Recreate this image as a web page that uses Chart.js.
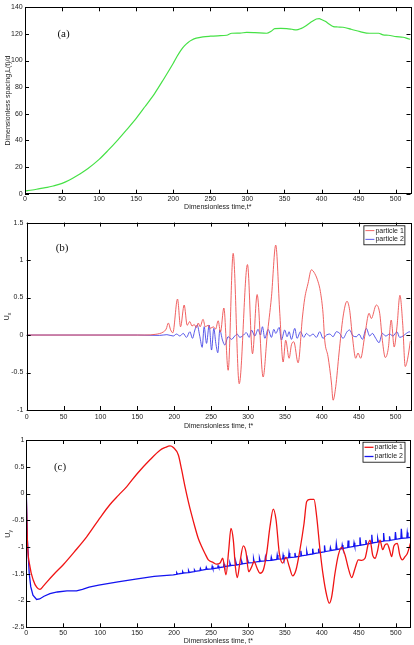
<!DOCTYPE html>
<html>
<head>
<meta charset="utf-8">
<script src="https://cdn.jsdelivr.net/npm/chart.js@4.4.0/dist/chart.umd.min.js"></script>
<style>
  html, body { margin: 0; padding: 0; background: #fff; }
  #page { position: relative; width: 414px; height: 645px; }
  .panel { position: absolute; left: 0; width: 414px; height: 215px; }
</style>
</head>
<body>
<div id="page">
  <div class="panel" style="top:0"><canvas id="chartA"></canvas></div>
  <div class="panel" style="top:215px"><canvas id="chartB"></canvas></div>
  <div class="panel" style="top:430px"><canvas id="chartC"></canvas></div>
</div>
<script>
// (a) spacing L(t)/d vs time
const spacingT = [0, 10, 20, 30, 38, 50, 60, 70, 85, 100, 112, 125, 137, 150, 162, 175, 187, 200, 205, 210, 215, 220, 225, 231, 240, 250, 260, 272, 279, 290, 299, 310, 326, 332, 337, 345, 353, 360, 366, 372, 378, 385, 393, 397, 400, 405, 410, 416, 422, 429, 440, 452, 465, 470, 477, 483, 490, 501, 510, 518, 520];
const spacingL = [2, 2.8, 3.8, 4.7, 5.8, 7.8, 10.3, 13.5, 19, 25.8, 32.5, 40.3, 48, 56.6, 65.5, 75.4, 86, 98, 103, 107.5, 111, 113.6, 115.4, 116.8, 117.8, 118.3, 118.6, 119, 120.5, 120.6, 121.2, 121, 120.5, 122, 124, 124.2, 124, 123.5, 123, 124, 125.8, 128.5, 131.2, 131.5, 130.8, 129.5, 127.5, 125.5, 125.2, 125, 123.5, 121.7, 120.5, 120.5, 120.5, 119.3, 119, 118, 117.5, 116.2, 116];

// (b) Ux, particle 1
const uxT1 = [0, 160, 175, 185, 189, 192, 195, 198, 204.4, 208.5, 213.4, 217.5, 221, 224, 227, 230, 232.5, 235, 239, 242, 246, 249, 253, 256, 259.5, 262.6, 267.2, 273, 279.8, 288, 299.2, 306, 312.3, 320.4, 325.8, 331.7, 337.5, 343, 347.5, 351, 355.6, 358.8, 362, 367.8, 373.7, 376.8, 381.3, 385.8, 390.4, 394.9, 398, 401.6, 403.9, 408.4, 413, 415.2, 418.8, 423.3, 428.7, 434.1, 437.7, 441.4, 445.9, 449, 452.6, 458, 464, 467, 473.8, 478.4, 482, 486, 490, 494, 498, 501.8, 505.8, 509.5, 513, 516, 520];
const ux1 = [0, 0, 0.01, 0.04, 0.08, 0.16, 0.07, 0.03, 0.48, 0.11, 0.4, 0.13, 0.18, 0.12, 0.14, 0.1, 0.16, 0.11, 0.21, 0.11, 0.13, 0.09, 0.11, 0.08, 0.19, 0.04, 0.36, -0.47, 1.09, -0.65, 0.94, -0.25, 0.54, -0.56, -0.02, 0.51, 1.2, 0.29, -0.36, -0.07, -0.31, -0.13, -0.09, -0.37, 0.24, 0.49, 0.69, 0.87, 0.82, 0.71, 0.58, 0.29, -0.07, -0.29, -0.64, -0.87, -0.69, -0.24, 0.24, 0.45, 0.33, -0.02, -0.31, -0.24, -0.31, -0.02, 0.29, 0.22, 0.4, 0.29, -0.07, -0.3, -0.18, 0.2, -0.16, 0.11, 0.53, 0.16, -0.42, -0.33, -0.08];

// (b) Ux, particle 2
const uxT2 = [0, 150, 180, 190, 198.6, 203.1, 207.6, 212.1, 216.6, 221.1, 224.7, 227.9, 231, 234.7, 237.8, 240.5, 243.7, 247.3, 250.5, 253.6, 256.3, 259, 261.7, 265.3, 268.5, 273, 277.5, 282, 285.2, 288.8, 292.4, 297.8, 301.5, 304.6, 309.1, 313.6, 316.8, 319.5, 322.7, 327.2, 331.7, 334.9, 337.6, 342.1, 345.2, 349.7, 352.9, 355.6, 358.8, 363.3, 366.4, 371, 375.5, 379.1, 383.6, 388.1, 392.6, 397.1, 401.6, 406.2, 410.7, 415.2, 419.7, 424.2, 428.7, 434.1, 437.7, 442.3, 446.8, 450.4, 454.9, 460.3, 464.8, 468.4, 473, 477.5, 482, 486.5, 491.9, 496.4, 501.8, 505.4, 510, 514.5, 519, 520];
const ux2 = [0, 0, -0.005, 0.005, -0.013, 0.013, -0.013, 0.022, -0.031, 0.044, -0.044, 0.067, 0.133, -0.022, -0.164, 0.111, -0.111, 0.133, -0.2, 0.089, -0.111, -0.236, 0.067, -0.067, -0.133, -0.022, -0.058, -0.013, 0.013, -0.031, -0.013, 0.031, -0.031, 0.067, -0.013, 0.076, 0, 0.111, -0.044, 0.076, -0.031, 0.076, 0.022, 0.102, -0.067, 0.067, -0.022, 0.044, -0.058, 0.089, -0.044, 0.044, -0.031, 0.022, -0.013, 0.013, -0.031, 0.044, -0.044, 0, 0.013, -0.022, 0.044, 0.022, -0.044, 0.044, 0.067, -0.013, -0.022, 0.013, -0.058, 0.089, -0.013, 0.022, -0.044, -0.102, 0.022, -0.013, 0.013, -0.013, 0.044, -0.031, -0.013, 0.022, 0.044, 0.03];

// (c) Uy, particle 1
const uyT1 = [0, 1.5, 5, 9.5, 14, 18.5, 23, 28, 38, 50, 65, 81.7, 100, 113, 125, 136, 150, 167.4, 181, 188, 194.5, 199, 205.8, 210.3, 214.8, 219.3, 223.8, 228.3, 232.8, 237.3, 241.8, 246.4, 253.1, 257.5, 262.2, 265.8, 270.3, 274, 277, 280.2, 283, 285.6, 289, 293.7, 297.3, 301, 305, 308.2, 312.5, 316.3, 320.8, 325.3, 329.8, 334.3, 338, 342.5, 347, 351.5, 356, 360.5, 365, 370.4, 375.9, 379.5, 384, 389.4, 393, 397.5, 402, 406.5, 410.1, 413.3, 417.8, 422.3, 426.8, 431.4, 435.9, 440.4, 444.9, 449.4, 454, 458.4, 463, 465.2, 468.8, 472, 475.1, 478.7, 482.3, 485.5, 488.5, 491.4, 494.5, 497.5, 502.2, 505.5, 509, 512.6, 515.7, 520];
const uy1 = [-0.05, -0.9, -1.37, -1.62, -1.75, -1.79, -1.73, -1.65, -1.5, -1.33, -1.09, -0.81, -0.45, -0.21, -0.03, 0.13, 0.37, 0.63, 0.81, 0.86, 0.89, 0.86, 0.72, 0.44, 0.13, -0.15, -0.4, -0.63, -0.84, -0.99, -1.12, -1.24, -1.29, -1.32, -1.3, -1.21, -1.52, -1.05, -0.65, -0.87, -1.37, -1.57, -1.3, -0.98, -1.09, -1.46, -1.37, -1.27, -1.4, -1.49, -1.43, -1.12, -0.62, -0.29, -0.49, -1.12, -1.3, -1.19, -1.37, -1.54, -1.43, -1.05, -0.56, -0.15, -0.11, -0.11, -0.43, -1.05, -1.55, -1.9, -2.05, -1.93, -1.49, -1.15, -1.0, -1.15, -1.4, -1.57, -1.4, -1.24, -1.25, -1.21, -0.93, -0.87, -1.15, -1.21, -1.09, -0.87, -1.05, -0.96, -0.94, -1.04, -1.18, -0.98, -0.93, -1.15, -1.24, -1.18, -1.12, -0.93];

// (c) Uy, particle 2 (slow drift with small periodic spikes)
const uyT2 = [0, 1.5, 4, 6, 9, 14, 18, 24, 32, 42, 55, 68, 76, 85, 98, 124, 148, 173, 199,
  203, 203.6, 204.6, 211, 211.6, 212.6, 219, 219.6, 220.6, 227, 227.6, 228.6, 235, 235.6, 236.6, 243, 243.6, 244.6,
  251, 251.6, 252.6, 259, 259.6, 260.6, 267, 267.6, 268.6, 275, 275.6, 276.6, 283, 283.6, 284.6, 291, 291.6, 292.6,
  299, 299.6, 300.6, 307, 307.6, 308.6, 315, 315.6, 316.6, 323, 323.6, 324.6, 331, 331.6, 332.6, 339, 339.6, 340.6,
  347, 347.6, 348.6, 355, 355.6, 356.6, 363, 363.6, 364.6, 371, 371.6, 372.6, 379, 379.6, 380.6, 387, 387.6, 388.6,
  395, 395.6, 396.6, 403, 403.6, 404.6, 411, 411.6, 412.6, 419, 419.6, 420.6, 427, 427.6, 428.6, 435, 435.6, 436.6,
  443, 443.6, 444.6, 451, 451.6, 452.6, 459, 459.6, 460.6, 467, 467.6, 468.6, 475, 475.6, 476.6, 483, 483.6, 484.6,
  491, 491.6, 492.6, 499, 499.6, 500.6, 507, 507.6, 508.6, 515, 515.6, 516.6, 520];
const uy2 = [0, -0.87, -1.5, -1.74, -1.9, -1.98, -1.97, -1.92, -1.87, -1.84, -1.82, -1.82, -1.79, -1.75, -1.71, -1.65, -1.6, -1.55, -1.52,
  -1.51, -1.48, -1.505, -1.49, -1.46, -1.485, -1.48, -1.44, -1.475, -1.46, -1.43, -1.455, -1.44, -1.40, -1.435, -1.42, -1.38, -1.415,
  -1.41, -1.36, -1.405, -1.39, -1.35, -1.385, -1.37, -1.32, -1.365, -1.35, -1.30, -1.345, -1.34, -1.28, -1.335, -1.32, -1.27, -1.315,
  -1.30, -1.24, -1.295, -1.29, -1.22, -1.285, -1.27, -1.21, -1.265, -1.26, -1.19, -1.255, -1.25, -1.19, -1.245, -1.23, -1.15, -1.225,
  -1.22, -1.15, -1.215, -1.20, -1.11, -1.195, -1.19, -1.11, -1.185, -1.17, -1.07, -1.165, -1.15, -1.08, -1.145, -1.13, -1.03, -1.125,
  -1.11, -1.03, -1.105, -1.09, -0.97, -1.085, -1.07, -1.01, -1.065, -1.05, -0.94, -1.045, -1.03, -0.96, -1.025, -1.01, -0.88, -1.005,
  -0.99, -0.92, -0.985, -0.97, -0.82, -0.965, -0.95, -0.87, -0.945, -0.93, -0.77, -0.925, -0.91, -0.84, -0.905, -0.89, -0.74, -0.885,
  -0.88, -0.80, -0.875, -0.86, -0.72, -0.855, -0.84, -0.66, -0.835, -0.83, -0.73, -0.825, -0.82];

const xTickVals = [0, 50, 100, 150, 200, 250, 300, 350, 400, 450, 500];
const legendLabels = ['particle 1', 'particle 2'];

function pts(ts, vs) {
  return ts.map((t, i) => ({ x: t, y: vs[i] }));
}

const TXT = '#222';
const SANS = "'Liberation Sans', Arial, sans-serif";

// box, inward ticks, panel tag, legend and subscripted y title
const framePlugin = {
  id: 'frame',
  afterDatasetsDraw(chart, args, o) {
    const { ctx, chartArea: a, scales } = chart;
    ctx.save();
    ctx.strokeStyle = '#000';
    ctx.lineWidth = 1;
    ctx.beginPath();
    scales.x.ticks.forEach(t => {
      const px = Math.round(scales.x.getPixelForValue(t.value)) + 0.5;
      ctx.moveTo(px, a.bottom); ctx.lineTo(px, a.bottom - 4);
      ctx.moveTo(px, a.top); ctx.lineTo(px, a.top + 4);
    });
    scales.y.ticks.forEach(t => {
      const py = Math.round(scales.y.getPixelForValue(t.value)) + 0.5;
      ctx.moveTo(a.left, py); ctx.lineTo(a.left + 4, py);
      ctx.moveTo(a.right, py); ctx.lineTo(a.right - 4, py);
    });
    ctx.stroke();
    ctx.strokeRect(Math.round(a.left) + 0.5, Math.round(a.top) + 0.5, Math.round(a.width), Math.round(a.height));

    // panel tag like "(a)"
    ctx.fillStyle = '#111';
    ctx.font = "11px 'Liberation Serif', 'Times New Roman', serif";
    ctx.textAlign = 'center';
    ctx.textBaseline = 'middle';
    ctx.fillText(o.tag, scales.x.getPixelForValue(o.tagAt[0]), scales.y.getPixelForValue(o.tagAt[1]));

    // legend box, top right inside the plot
    if (o.legend) {
      const lg = o.legend;
      const x0 = a.right - lg.inset - lg.w, y0 = a.top + lg.down;
      ctx.fillStyle = '#fff';
      ctx.fillRect(x0, y0, lg.w, lg.h);
      ctx.lineWidth = 0.8;
      ctx.strokeStyle = '#000';
      ctx.strokeRect(x0 + 0.5, y0 + 0.5, lg.w, lg.h);
      ctx.font = '7px ' + SANS;
      ctx.textAlign = 'left';
      chart.data.datasets.forEach((ds, i) => {
        const yy = y0 + lg.h * (i === 0 ? 0.28 : 0.74);
        ctx.strokeStyle = ds.borderColor;
        ctx.lineWidth = ds.borderWidth;
        ctx.beginPath();
        ctx.moveTo(x0 + 2, yy); ctx.lineTo(x0 + 11, yy);
        ctx.stroke();
        ctx.fillStyle = TXT;
        ctx.fillText(ds.label, x0 + 12, yy);
      });
    }

    // y title with subscript (U_x, U_y)
    if (o.yTitle) {
      const cy = (a.top + a.bottom) / 2;
      ctx.translate(o.yTitle.x, cy);
      ctx.rotate(-Math.PI / 2);
      ctx.fillStyle = TXT;
      ctx.textBaseline = 'alphabetic';
      ctx.textAlign = 'left';
      ctx.font = '7px ' + SANS;
      const w = ctx.measureText(o.yTitle.main).width;
      ctx.fillText(o.yTitle.main, -w / 2 - 1.5, 2.5);
      ctx.font = '5px ' + SANS;
      ctx.fillText(o.yTitle.sub, w / 2 - 1.5, 4.5);
    }
    ctx.restore();
  }
};

function makePanel(id, datasets, s) {
  return new Chart(document.getElementById(id), {
    type: 'line',
    data: { datasets },
    options: {
      responsive: true,
      maintainAspectRatio: false,
      animation: false,
      layout: { padding: { top: s.padTop, right: s.padRight, left: 0, bottom: 0 } },
      elements: { point: { radius: 0 } },
      plugins: {
        legend: { display: false },
        tooltip: { enabled: false },
        frame: s.frame
      },
      scales: {
        x: {
          type: 'linear', min: 0, max: 520,
          ticks: { padding: s.xPad, color: TXT, maxRotation: 0, autoSkip: false, font: { family: SANS, size: 7 } },
          afterBuildTicks: sc => { sc.ticks = xTickVals.map(v => ({ value: v })); },
          afterFit: sc => { sc.height = s.xH; },
          grid: { display: false, drawTicks: false },
          border: { display: false },
          title: { display: true, text: s.xTitle, color: TXT, font: { family: SANS, size: 7 }, padding: { top: 0, bottom: s.xTitlePad } }
        },
        y: {
          min: s.ymin, max: s.ymax,
          ticks: { stepSize: s.ystep, padding: s.yPad, color: TXT, font: { family: SANS, size: 7 },
                   callback: v => String(Math.round(v * 100) / 100) },
          afterFit: sc => { sc.width = s.yW; },
          grid: { display: false, drawTicks: false },
          border: { display: false },
          title: s.yTitle
            ? { display: true, text: s.yTitle, color: TXT, font: { family: SANS, size: 7 }, padding: { top: s.yTitlePad, bottom: 0 } }
            : { display: false }
        }
      }
    },
    plugins: [framePlugin]
  });
}

makePanel('chartA', [
  { label: 'L(t)/d', data: pts(spacingT, spacingL), borderColor: 'rgb(70,225,70)', borderWidth: 1.2, cubicInterpolationMode: 'monotone' }
], {
  padTop: 7.3, padRight: 3.5, xH: 21.3, yW: 25, xPad: 1, yPad: 2.3, xTitlePad: 3.3, yTitlePad: 4.3,
  ymin: 0, ymax: 140, ystep: 20,
  xTitle: 'Dimensionless time,t*', yTitle: 'Dimensionless spacing,L(t)/d',
  frame: { tag: '(a)', tagAt: [52, 120] }
});

makePanel('chartB', [
  { label: legendLabels[0], data: pts(uxT1, ux1), borderColor: 'rgb(238,80,80)', borderWidth: 0.9, cubicInterpolationMode: 'monotone' },
  { label: legendLabels[1], data: pts(uxT2, ux2), borderColor: 'rgb(70,70,230)', borderWidth: 0.9, cubicInterpolationMode: 'monotone' }
], {
  padTop: 7.3, padRight: 3.6, xH: 20, yW: 26.7, xPad: 3, yPad: 3.4, xTitlePad: 0.2, yTitlePad: 0,
  ymin: -1, ymax: 1.5, ystep: 0.5,
  xTitle: 'Dimensionless time, t*', yTitle: null,
  frame: { tag: '(b)', tagAt: [48, 1.16], legend: { inset: 6, down: 2.7, w: 41, h: 19 }, yTitle: { main: 'U', sub: 'x', x: 6.5 } }
});

makePanel('chartC', [
  { label: legendLabels[0], data: pts(uyT1, uy1), borderColor: 'rgb(240,20,20)', borderWidth: 1.3, cubicInterpolationMode: 'monotone' },
  { label: legendLabels[1], data: pts(uyT2, uy2), borderColor: 'rgb(20,20,240)', borderWidth: 1.3 }
], {
  padTop: 10, padRight: 3.5, xH: 17.7, yW: 26.3, xPad: 1.5, yPad: 2, xTitlePad: 0, yTitlePad: 0,
  ymin: -2.5, ymax: 1, ystep: 0.5,
  xTitle: 'Dimensionless time, t*', yTitle: null,
  frame: { tag: '(c)', tagAt: [45.6, 0.5], legend: { inset: 6, down: 1.7, w: 42, h: 20 }, yTitle: { main: 'U', sub: 'y', x: 7 } }
});
</script>
</body>
</html>
